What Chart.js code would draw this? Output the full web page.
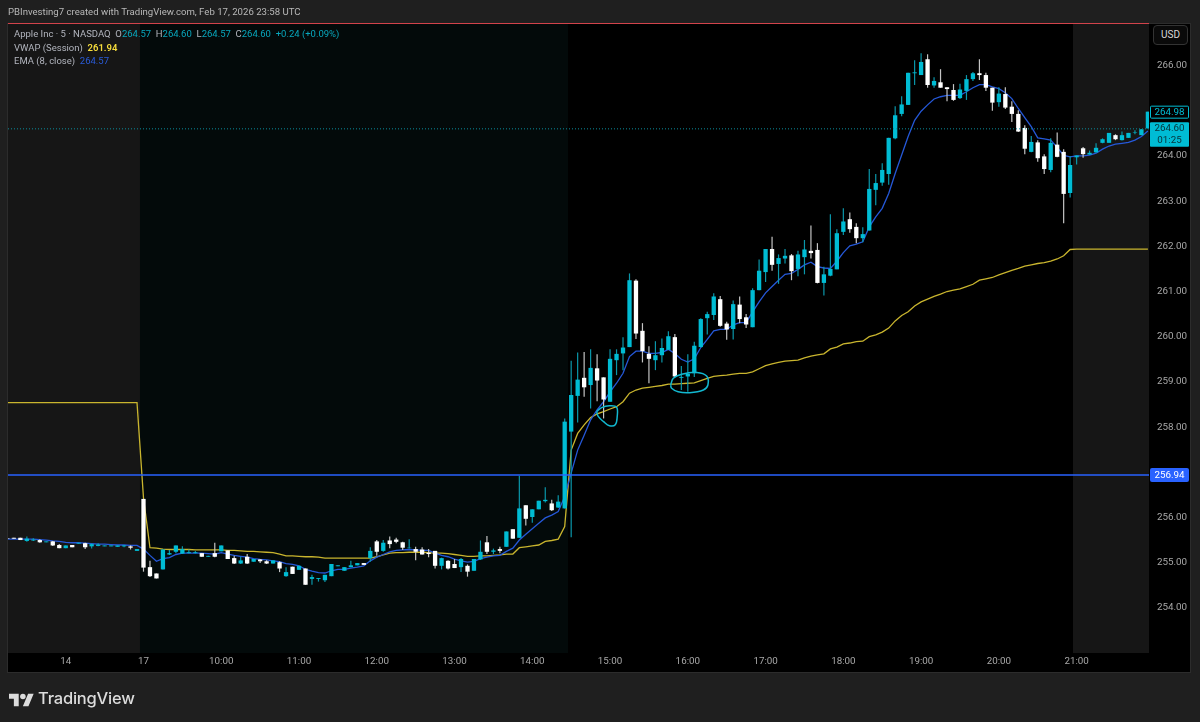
<!DOCTYPE html>
<html><head><meta charset="utf-8">
<script src="https://cdn.jsdelivr.net/npm/chart.js@4"></script>
<style>
html,body{margin:0;padding:0;background:#1f1f1f;width:1200px;height:722px;overflow:hidden;font-family:Roboto,sans-serif}
#wrap{position:relative;width:1200px;height:722px}
canvas{position:absolute;left:0;top:0}
.t{position:absolute;white-space:pre;font-size:9.5px;line-height:13px;color:#b2b5be}
.v{color:#08a7bd}
#red{position:absolute;left:8px;top:22.5px;width:1141px;height:1.5px;background:#d2434b}
#usd{position:absolute;left:1153px;top:25px;width:35px;height:20px;box-sizing:border-box;border:1px solid #333;border-radius:4px;color:#d8d8d8;font-size:10px;line-height:18px;text-align:center;background:#0a0a0a}
#logo{position:absolute;left:9px;top:691px}
#brand{position:absolute;left:38px;top:688px;font:500 16.5px/21px Inter,Roboto,sans-serif;color:#dcdcdc;letter-spacing:-.2px}
</style></head><body>
<div id="wrap">
<canvas id="c" width="1200" height="722"></canvas>
<div id="red"></div>
<div class="t" style="left:8px;top:5px;color:#b8b8b8;font-size:9.6px">PBInvesting7 created with TradingView.com, Feb 17, 2026 23:58 UTC</div>
<div class="t" style="left:14px;top:27px">Apple Inc · 5 · NASDAQ  O<span class="v">264.57</span>  H<span class="v">264.60</span>  L<span class="v">264.57</span>  C<span class="v">264.60</span>  <span class="v">+0.24 (+0.09%)</span></div>
<div class="t" style="left:14px;top:40.5px">VWAP (Session)  <span style="color:#f5dc3c;font-weight:600">261.94</span></div>
<div class="t" style="left:14px;top:54px">EMA (8, close)  <span style="color:#2a5bd7">264.57</span></div>
<div id="usd">USD</div>
<svg id="logo" width="25" height="16" viewBox="0 0 36 23"><path fill="#dcdcdc" d="M14 22H7V11H0V4h14v18zM28 22h-8l7.5-18h8L28 22z"/><circle fill="#dcdcdc" cx="20" cy="8" r="4"/></svg>
<div id="brand">TradingView</div>
</div>
<script>
const firstBar = -21;
const opens = [
255.54,255.55,255.55,255.48,255.49,255.50,255.45,255.47,255.39,255.32,
255.39,255.42,255.43,255.36,255.37,255.36,255.36,255.35,255.36,255.36,
255.26,256.41,254.90,254.76,254.85,255.18,255.24,255.20,255.21,255.21,
255.21,255.13,255.21,255.25,255.27,255.10,254.98,255.13,255.02,255.07,
255.03,254.98,255.01,254.70,254.91,254.84,254.87,254.64,254.64,254.61,
254.70,254.92,254.82,254.90,254.94,254.99,255.10,255.47,255.26,255.49,
255.51,255.45,255.32,255.30,255.29,255.22,255.26,254.93,255.04,254.97,
254.90,254.93,254.82,255.07,255.45,255.24,255.30,255.35,255.74,255.55,
256.27,256.01,256.18,256.36,256.31,256.22,256.20,257.90,258.69,259.09,
258.93,259.30,259.10,258.56,259.48,259.63,259.77,261.24,260.13,259.62,
259.48,259.59,259.71,259.99,259.09,259.12,259.19,259.77,260.41,260.48,
260.83,260.29,260.17,260.71,260.43,260.21,261.03,261.43,261.94,261.61,
261.73,261.80,261.50,261.76,261.90,261.92,261.19,261.35,261.49,262.32,
262.60,262.43,262.18,262.35,263.25,263.41,263.60,264.39,264.93,265.13,
265.83,265.79,266.14,265.56,265.63,265.52,265.46,265.28,265.44,265.70,
265.83,265.79,265.51,265.19,265.37,265.09,264.93,264.62,264.09,264.30,
263.99,263.69,264.25,264.09,263.18,263.97,264.17,264.03,264.08,264.29,
264.29,264.46,264.35,264.40,264.52,264.46,264.61];
const highs = [
255.55,255.55,255.55,255.58,255.54,255.52,255.47,255.48,255.41,255.38,
255.39,255.44,255.44,255.43,255.43,255.38,255.38,255.38,255.39,255.38,
255.30,256.41,255.04,254.76,255.29,255.28,255.38,255.36,255.29,255.26,
255.21,255.15,255.44,255.38,255.27,255.15,255.13,255.19,255.08,255.08,
255.05,255.05,255.03,254.90,254.91,254.93,254.87,254.73,254.66,254.73,
254.97,254.94,254.90,255.04,254.99,254.99,255.34,255.50,255.50,255.58,
255.55,255.46,255.52,255.35,255.34,255.30,255.26,255.11,255.05,255.08,
255.10,254.96,255.08,255.49,255.59,255.31,255.35,255.69,255.74,256.92,
256.27,256.18,256.37,256.67,256.39,256.49,258.19,259.47,259.65,259.66,
259.72,259.61,259.10,259.72,259.72,259.99,261.40,261.27,260.30,259.79,
259.90,259.96,260.12,260.06,259.35,259.61,259.89,260.41,260.55,260.96,
260.90,260.33,260.80,260.89,260.50,261.07,261.71,261.94,262.21,261.82,
261.94,261.83,261.90,262.14,262.46,262.07,261.55,262.71,262.38,262.84,
262.75,262.51,262.42,263.71,263.60,263.84,264.40,265.10,265.32,265.84,
266.12,266.27,266.25,265.74,265.92,265.52,265.59,265.60,265.79,265.86,
266.14,265.84,265.51,265.52,265.52,265.21,265.01,264.68,264.44,264.35,
264.04,264.39,264.52,264.15,264.00,264.01,264.20,264.12,264.28,264.39,
264.51,264.48,264.54,264.51,264.57,264.59,264.98];
const lows = [
255.52,255.53,255.50,255.46,255.48,255.44,255.45,255.37,255.32,255.32,
255.34,255.42,255.30,255.31,255.36,255.36,255.36,255.35,255.34,255.29,
255.26,254.80,254.68,254.65,254.85,255.17,255.21,255.19,255.20,255.20,
255.13,255.13,255.12,255.25,255.08,254.97,254.97,254.97,255.02,254.99,
254.97,254.98,254.79,254.69,254.75,254.84,254.51,254.51,254.58,254.57,
254.70,254.92,254.82,254.90,254.94,254.95,255.02,255.15,255.24,255.32,
255.43,255.28,255.31,255.05,255.18,255.12,254.87,254.85,254.85,254.88,
254.79,254.69,254.82,255.06,255.19,255.19,255.21,255.35,255.53,255.55,
255.82,255.88,256.18,256.33,256.14,256.21,256.20,255.56,258.10,258.67,
258.41,258.57,258.19,258.56,259.15,259.26,259.77,259.95,259.43,258.97,
259.26,259.43,259.71,259.11,258.82,258.78,259.11,259.76,260.05,260.37,
260.22,259.93,259.94,260.30,260.19,260.21,261.03,261.21,261.46,261.17,
261.62,261.25,261.34,261.38,261.73,261.18,260.91,261.34,261.49,262.25,
262.30,262.07,262.09,262.35,262.91,263.34,263.36,264.37,264.88,265.13,
265.57,265.79,265.51,265.51,265.51,265.21,265.22,265.26,265.24,265.66,
265.68,265.44,265.00,265.09,265.04,264.75,264.53,264.04,264.08,263.87,
263.60,263.64,263.97,262.51,263.08,263.81,263.96,264.03,264.07,264.28,
264.29,264.35,264.34,264.40,264.48,264.46,264.61];
const closes = [
255.53,255.53,255.50,255.53,255.51,255.45,255.47,255.38,255.32,255.38,
255.34,255.44,255.34,255.41,255.40,255.38,255.38,255.38,255.38,255.33,
255.30,254.89,254.70,254.65,255.29,255.21,255.38,255.30,255.23,255.23,
255.13,255.15,255.13,255.38,255.08,254.98,255.05,254.98,255.08,255.03,
254.98,255.05,254.87,254.79,254.75,254.93,254.51,254.68,254.66,254.73,
254.97,254.94,254.90,254.94,254.99,254.95,255.26,255.24,255.44,255.41,
255.46,255.33,255.33,255.24,255.18,255.19,254.93,255.10,254.87,254.88,
255.08,254.80,255.08,255.24,255.24,255.27,255.26,255.69,255.53,256.20,
255.97,256.18,256.37,256.39,256.16,256.35,258.12,258.71,259.05,258.88,
259.31,259.03,258.61,259.51,259.62,259.76,261.25,260.07,259.68,259.51,
259.59,259.75,260.01,259.12,259.11,259.18,259.80,260.39,260.50,260.89,
260.24,260.16,260.72,260.39,260.27,261.03,261.46,261.94,261.59,261.74,
261.79,261.45,261.82,261.93,261.85,261.19,261.38,261.50,262.29,262.55,
262.38,262.18,262.27,263.27,263.40,263.69,264.40,264.90,265.14,265.84,
265.85,266.08,265.57,265.66,265.51,265.48,265.24,265.47,265.70,265.83,
265.79,265.51,265.18,265.38,265.07,264.93,264.54,264.16,264.31,263.95,
263.71,264.29,263.98,263.16,263.80,264.01,264.04,264.07,264.18,264.37,
264.51,264.37,264.46,264.51,264.53,264.59,264.98];
const ema = [
255.52,255.52,255.52,255.52,255.52,255.51,255.50,255.48,255.47,255.45,
255.44,255.44,255.43,255.42,255.41,255.41,255.40,255.39,255.39,255.38,
255.38,255.30,255.16,255.03,255.09,255.11,255.18,255.21,255.21,255.21,
255.21,255.20,255.19,255.22,255.19,255.16,255.14,255.12,255.09,255.07,
255.06,255.04,255.02,254.98,254.96,254.93,254.85,254.81,254.78,254.77,
254.82,254.85,254.85,254.88,254.90,254.93,255.04,255.12,255.18,255.24,
255.27,255.28,255.29,255.28,255.27,255.27,255.21,255.16,255.13,255.08,
255.04,255.01,255.03,255.09,255.12,255.15,255.16,255.25,255.32,255.50,
255.63,255.75,255.87,255.99,256.05,256.13,256.46,256.98,257.49,257.82,
258.16,258.38,258.56,258.78,258.97,259.19,259.56,259.68,259.68,259.63,
259.63,259.65,259.72,259.63,259.50,259.44,259.51,259.76,259.94,260.13,
260.16,260.16,260.26,260.31,260.31,260.55,260.77,260.97,261.11,261.25,
261.38,261.40,261.49,261.59,261.65,261.55,261.52,261.51,261.67,261.86,
262.01,262.05,262.10,262.43,262.65,262.84,263.17,263.61,264.02,264.43,
264.79,264.99,265.13,265.26,265.31,265.34,265.34,265.34,265.42,265.51,
265.58,265.58,265.53,265.49,265.40,265.27,265.05,264.85,264.65,264.40,
264.38,264.35,264.19,264.01,263.98,264.00,264.00,264.02,264.06,264.15,
264.22,264.26,264.28,264.30,264.35,264.43,264.55];
const vwap = [
258.54,258.54,258.54,258.54,258.54,258.54,258.54,258.54,258.54,258.54,
258.54,258.54,258.54,258.54,258.54,258.54,258.54,258.54,258.54,258.54,
258.54,256.43,255.33,255.32,255.30,255.29,255.29,255.29,255.29,255.28,
255.28,255.28,255.28,255.28,255.27,255.27,255.26,255.25,255.25,255.24,
255.23,255.22,255.19,255.15,255.15,255.14,255.13,255.13,255.12,255.10,
255.10,255.10,255.10,255.10,255.10,255.10,255.10,255.13,255.17,255.21,
255.22,255.22,255.23,255.23,255.23,255.22,255.21,255.21,255.20,255.18,
255.16,255.14,255.14,255.15,255.15,255.16,255.17,255.19,255.19,255.33,
255.35,255.37,255.39,255.47,255.49,255.52,255.80,257.49,257.86,258.05,
258.21,258.29,258.34,258.40,258.45,258.56,258.75,258.82,258.86,258.88,
258.90,258.92,258.95,258.95,258.96,258.97,258.98,259.03,259.08,259.12,
259.14,259.15,259.17,259.19,259.19,259.22,259.29,259.36,259.40,259.43,
259.46,259.47,259.48,259.53,259.57,259.60,259.62,259.73,259.77,259.84,
259.86,259.89,259.90,260.00,260.04,260.10,260.19,260.35,260.47,260.55,
260.68,260.77,260.83,260.89,260.94,261.00,261.03,261.06,261.11,261.16,
261.25,261.28,261.31,261.37,261.42,261.47,261.51,261.56,261.59,261.62,
261.64,261.67,261.72,261.79,261.93,261.94,261.94,261.94,261.94,261.94,
261.94,261.94,261.94,261.94,261.94,261.94,261.94];
const xTickBars = [-12,0,12,24,36,48,60,72,84,96,108,120,132,144];
const xTickLabels = ['14','17','10:00','11:00','12:00','13:00','14:00','15:00','16:00','17:00','18:00','19:00','20:00','21:00'];
const hiddenPriceTicks = [265,257,253];
const levelPrice = 256.94;
const lastPrice = 264.60;
const lastHigh = 264.98;
const sessionEdges = [-0.54, 65.5, 143.45];
const circleAX = [69.93,70.7,71.9,73.0,73.1,72.8,71.9,71.0,70.2,69.93];
const circleAY = [258.34,258.43,258.47,258.44,258.23,258.05,258.03,258.12,258.23,258.34];
const circleBX = [81.35,81.76,83.05,85.4,86.9,87.1,86.4,84.3,82.5,81.5,81.35];
const circleBY = [258.93,259.08,259.17,259.21,259.13,258.93,258.82,258.76,258.78,258.86,258.93];

const xMin = -20.91, xMax = 155.17, yMin = 253.0, yMax = 266.92;
const CY = '#00bcd4', WH = '#ffffff', CYW = '#0a97aa', WHW = '#c4c4c4';
const barX = opens.map((_, i) => firstBar + i);
const isUp = i => closes[i] >= opens[i];
const pts = arr => arr.map((v, i) => ({x: barX[i], y: v}));
const pair = (xs, ys) => xs.map((x, i) => ({x, y: ys[i]}));
const lineStyle = {type:'line', pointRadius:0, pointHoverRadius:0, fill:false, tension:0};
const axisFont = {family:'Roboto,sans-serif', size:9.8};

const frame = {
  id:'frame',
  beforeDraw(ch){
    const c = ch.ctx, a = ch.chartArea, x = ch.scales.x;
    const e = sessionEdges.map(v => x.getPixelForValue(v));
    c.save();
    c.fillStyle = '#2c2c2c'; c.fillRect(a.left-1, a.top-1, 1184, a.height+21);
    c.fillStyle = '#000'; c.fillRect(a.left, a.bottom, 1182, 19);
    c.fillRect(a.right, a.top, 41, a.height+19);
    c.fillStyle = '#161616'; c.fillRect(a.left, a.top, e[0]-a.left, a.height);
    c.fillStyle = '#030a0a'; c.fillRect(e[0], a.top, e[1]-e[0], a.height);
    c.fillStyle = '#000'; c.fillRect(e[1], a.top, e[2]-e[1], a.height);
    c.fillStyle = '#161616'; c.fillRect(e[2], a.top, a.right-e[2], a.height);
    c.restore();
  },
  afterDraw(ch){
    const c = ch.ctx, a = ch.chartArea, y = ch.scales.y;
    const L = a.right+1, W = 39;
    c.save();
    c.font = '9.8px Roboto,sans-serif'; c.textAlign='center'; c.textBaseline='middle';
    const py = y.getPixelForValue(levelPrice);
    c.fillStyle='#2962ff'; c.beginPath(); c.roundRect(L, py-7, W, 14, 2); c.fill();
    c.fillStyle='#fff'; c.fillText(levelPrice.toFixed(2), L+W/2, py+.5);
    const hy = y.getPixelForValue(lastHigh);
    c.fillStyle='#000'; c.strokeStyle='#00bcd4'; c.lineWidth=1;
    c.beginPath(); c.roundRect(L+.5, hy-5.5, W-1, 12, 1); c.fill(); c.stroke();
    c.fillStyle='#00bcd4'; c.fillText(lastHigh.toFixed(2), L+W/2, hy+.7);
    const ly = y.getPixelForValue(lastPrice);
    c.fillStyle='#00bcd4'; c.beginPath(); c.roundRect(L, ly-6.5, W, 24.5, 1); c.fill();
    c.fillStyle='#06333a'; c.fillText(lastPrice.toFixed(2), L+W/2, ly);
    c.fillText('01:25', L+W/2, ly+12);
    c.restore();
  }
};

new Chart(document.getElementById('c'), {
  type:'bar',
  plugins:[frame],
  data:{datasets:[
    {...lineStyle, label:'VWAP (Session)', order:6, borderColor:'#c9b52e', borderWidth:1.3, data:pts(vwap)},
    {...lineStyle, label:'EMA (8, close)', order:5, borderColor:'#2558d8', borderWidth:1.3, data:pts(ema)},
    {label:'wicks', order:4, grouped:false, barThickness:1.2, inflateAmount:0, borderWidth:0,
     data:barX.map((x,i)=>({x, y:[lows[i],highs[i]]})),
     backgroundColor:barX.map((_,i)=>isUp(i)?CYW:WHW)},
    {label:'bodies', order:3, grouped:false, barThickness:4.3, inflateAmount:0, borderWidth:0,
     data:barX.map((x,i)=>({x, y:[opens[i],closes[i]]})),
     backgroundColor:barX.map((_,i)=>isUp(i)?CY:WH)},
    {...lineStyle, label:'circle A', order:2, borderColor:'#12b8d0', borderWidth:1.5, tension:.4, data:pair(circleAX,circleAY)},
    {...lineStyle, label:'circle B', order:2, borderColor:'#12b8d0', borderWidth:1.5, tension:.4, data:pair(circleBX,circleBY)},
    {...lineStyle, label:'level', order:1, borderColor:'#2962ff', borderWidth:1.5, data:pair([xMin,xMax],[levelPrice,levelPrice])},
    {...lineStyle, label:'last', order:1, borderColor:'#0b8c9c', borderWidth:1, borderDash:[1,2], data:pair([xMin,xMax],[lastPrice,lastPrice])}
  ]},
  options:{
    responsive:false, animation:false, devicePixelRatio:1,
    layout:{padding:{left:8,top:24,right:10,bottom:50}},
    plugins:{legend:{display:false},tooltip:{enabled:false},title:{display:false}},
    scales:{
      x:{type:'linear',min:xMin,max:xMax,offset:false,
        grid:{display:false,drawTicks:false},border:{display:false},
        afterBuildTicks:s=>{s.ticks=xTickBars.map(v=>({value:v}));},
        afterFit:s=>{s.height=19;},
        ticks:{autoSkip:false,maxRotation:0,padding:3,color:'#a8a8a8',font:axisFont,
          callback:v=>xTickLabels[xTickBars.indexOf(v)]}},
      y:{type:'linear',position:'right',min:yMin,max:yMax,
        grid:{display:false,drawTicks:false},border:{display:false},
        afterBuildTicks:s=>{s.ticks=s.ticks.filter(t=>Number.isInteger(t.value));},
        afterFit:s=>{s.width=41;},
        ticks:{stepSize:1,autoSkip:false,padding:8,crossAlign:'near',color:'#a8a8a8',font:axisFont,
          callback:v=>hiddenPriceTicks.includes(v)?'':v.toFixed(2)}}
    }
  }
});
</script>
</body></html>
